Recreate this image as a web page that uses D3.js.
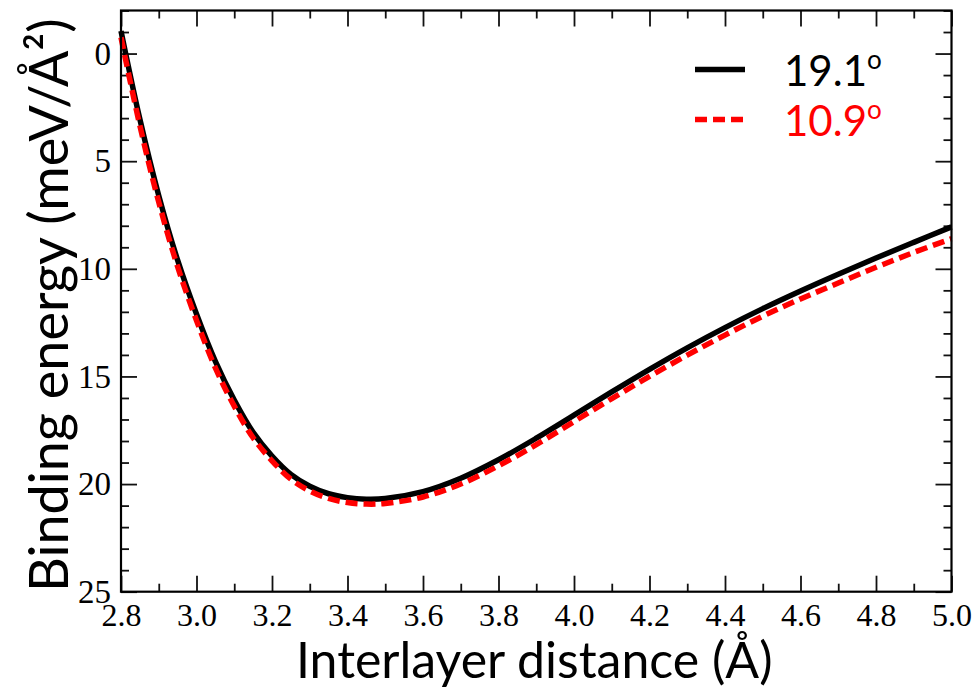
<!DOCTYPE html>
<html>
<head>
<meta charset="utf-8">
<script src="https://cdn.jsdelivr.net/npm/d3@7"></script>
<style>
  body { margin: 0; background: #fff; }
  svg { display: block; }
</style>
</head>
<body>
<div id="chartContainer"></div>
<script>
// Interlayer distance (Å)
const distance = [2.80, 2.85, 2.90, 2.95, 3.00, 3.05, 3.10, 3.15, 3.20, 3.25, 3.30, 3.35, 3.40, 3.45, 3.50,
                  3.6, 3.7, 3.8, 3.9, 4.0, 4.1, 4.2, 4.3, 4.4, 4.5, 4.6, 4.7, 4.8, 4.9, 5.0];
// Binding energy (meV/Å²), twist 19.1°
const energy191 = [-1.05, 3.05, 6.6, 9.6, 12.1, 14.3, 16.1, 17.6, 18.7, 19.55, 20.1, 20.45, 20.63, 20.7, 20.67,
                   20.35, 19.73, 18.87, 17.87, 16.8, 15.72, 14.67, 13.67, 12.73, 11.85, 11.03, 10.25, 9.5, 8.77, 8.05];
// Binding energy (meV/Å²), twist 10.9°
const energy109 = [-0.75, 3.35, 6.9, 9.9, 12.4, 14.6, 16.38, 17.85, 18.92, 19.77, 20.32, 20.67, 20.86, 20.93, 20.9,
                   20.6, 20.0, 19.15, 18.17, 17.1, 16.03, 15.0, 14.01, 13.08, 12.2, 11.4, 10.66, 9.93, 9.24, 8.6];

const seriesNames = ["19.1", "10.9"];
const seriesColors = ["#000000", "#ff0000"];

const xMajor = d3.range(28, 51, 2).map(v => v / 10);
const xMinor = d3.range(29, 50, 2).map(v => v / 10);
const yMajor = [0, 5, 10, 15, 20, 25];
const yMinor = d3.range(-2, 26).filter(v => v % 5 !== 0);

function createChart() {
    const width = 973;
    const height = 691;
    const marginTop = 10.5;
    const marginRight = 21.5;
    const marginBottom = 99.3;
    const marginLeft = 121;

    const titleFont = "Lato, 'Open Sans', sans-serif";
    const tickFont = "'Liberation Serif', 'DejaVu Serif', serif";

    const x = d3.scaleLinear()
        .domain([2.8, 5.0])
        .range([marginLeft, width - marginRight]);

    const y = d3.scaleLinear()
        .domain([-2, 25])
        .range([marginTop, height - marginBottom]);

    const svg = d3.create("svg")
        .attr("viewBox", [0, 0, width, height])
        .attr("width", width)
        .attr("height", height);

    svg.append("rect")
        .attr("width", width).attr("height", height).attr("fill", "#fff");

    const styleAxis = g => g
        .call(g => g.select(".domain").remove())
        .call(g => g.selectAll(".tick line").attr("stroke", "#111").attr("stroke-width", 1.8));

    // bottom axis: major with labels, minor without
    svg.append("g")
        .attr("transform", `translate(0,${y(25)})`)
        .call(d3.axisBottom(x).tickValues(xMajor).tickSize(-16).tickPadding(12).tickFormat(d3.format(".1f")))
        .call(styleAxis)
        .call(g => g.selectAll("text").attr("font-family", tickFont).attr("font-size", 32).attr("fill", "#000"));
    svg.append("g")
        .attr("transform", `translate(0,${y(25)})`)
        .call(d3.axisBottom(x).tickValues(xMinor).tickSize(-8).tickFormat(""))
        .call(styleAxis);

    // top axis (ticks only)
    svg.append("g")
        .attr("transform", `translate(0,${y(-2)})`)
        .call(d3.axisTop(x).tickValues(xMajor).tickSize(-16).tickFormat(""))
        .call(styleAxis);
    svg.append("g")
        .attr("transform", `translate(0,${y(-2)})`)
        .call(d3.axisTop(x).tickValues(xMinor).tickSize(-8).tickFormat(""))
        .call(styleAxis);

    // left axis
    svg.append("g")
        .attr("transform", `translate(${x(2.8)},0)`)
        .call(d3.axisLeft(y).tickValues(yMajor).tickSize(-16).tickPadding(10).tickFormat(d3.format("d")))
        .call(styleAxis)
        .call(g => g.selectAll("text").attr("font-family", tickFont).attr("font-size", 33).attr("fill", "#000"));
    svg.append("g")
        .attr("transform", `translate(${x(2.8)},0)`)
        .call(d3.axisLeft(y).tickValues(yMinor).tickSize(-8).tickFormat(""))
        .call(styleAxis);

    // right axis (ticks only)
    svg.append("g")
        .attr("transform", `translate(${x(5.0)},0)`)
        .call(d3.axisRight(y).tickValues(yMajor).tickSize(-16).tickFormat(""))
        .call(styleAxis);
    svg.append("g")
        .attr("transform", `translate(${x(5.0)},0)`)
        .call(d3.axisRight(y).tickValues(yMinor).tickSize(-8).tickFormat(""))
        .call(styleAxis);

    // curves
    const line = d3.line()
        .x(d => x(d[0]))
        .y(d => y(d[1]))
        .curve(d3.curveCatmullRom.alpha(0.5));

    svg.append("path")
        .datum(distance.map((d, i) => [d, energy191[i]]))
        .attr("fill", "none")
        .attr("stroke", seriesColors[0])
        .attr("stroke-width", 5.5)
        .attr("d", line);

    svg.append("path")
        .datum(distance.map((d, i) => [d, energy109[i]]))
        .attr("fill", "none")
        .attr("stroke", seriesColors[1])
        .attr("stroke-width", 5.5)
        .attr("stroke-dasharray", "12,6")
        .attr("d", line);

    // frame
    svg.append("rect")
        .attr("x", x(2.8)).attr("y", y(-2))
        .attr("width", x(5.0) - x(2.8)).attr("height", y(25) - y(-2))
        .attr("fill", "none")
        .attr("stroke", "#000")
        .attr("stroke-width", 2.2);

    // legend
    const legend = svg.append("g");
    const legendRows = [69.5, 119.5];
    seriesNames.forEach((name, i) => {
        legend.append("line")
            .attr("x1", 695).attr("x2", 745)
            .attr("y1", legendRows[i]).attr("y2", legendRows[i])
            .attr("stroke", seriesColors[i])
            .attr("stroke-width", 5.5)
            .attr("stroke-dasharray", i === 1 ? "12,6" : null);
        const t = legend.append("text")
            .attr("x", 784).attr("y", legendRows[i] + 16)
            .attr("font-family", titleFont)
            .attr("font-size", 42)
            .attr("fill", seriesColors[i])
            .text(name);
        t.append("tspan")
            .attr("dy", -17)
            .attr("font-size", 26)
            .text("o");
    });

    // axis titles
    svg.append("text")
        .attr("x", (x(2.8) + x(5.0)) / 2 - 2)
        .attr("y", 678)
        .attr("text-anchor", "middle")
        .attr("font-family", titleFont)
        .attr("font-size", 50)
        .attr("fill", "#000")
        .text("Interlayer distance (Å)");

    svg.append("text")
        .attr("transform", `translate(68,${(y(-2) + y(25)) / 2 + 4}) rotate(-90)`)
        .attr("text-anchor", "middle")
        .attr("font-family", titleFont)
        .attr("font-size", 54)
        .attr("fill", "#000")
        .text("Binding energy (meV/Å²)");

    return svg.node();
}

document.getElementById("chartContainer").appendChild(createChart());
</script>
</body>
</html>
